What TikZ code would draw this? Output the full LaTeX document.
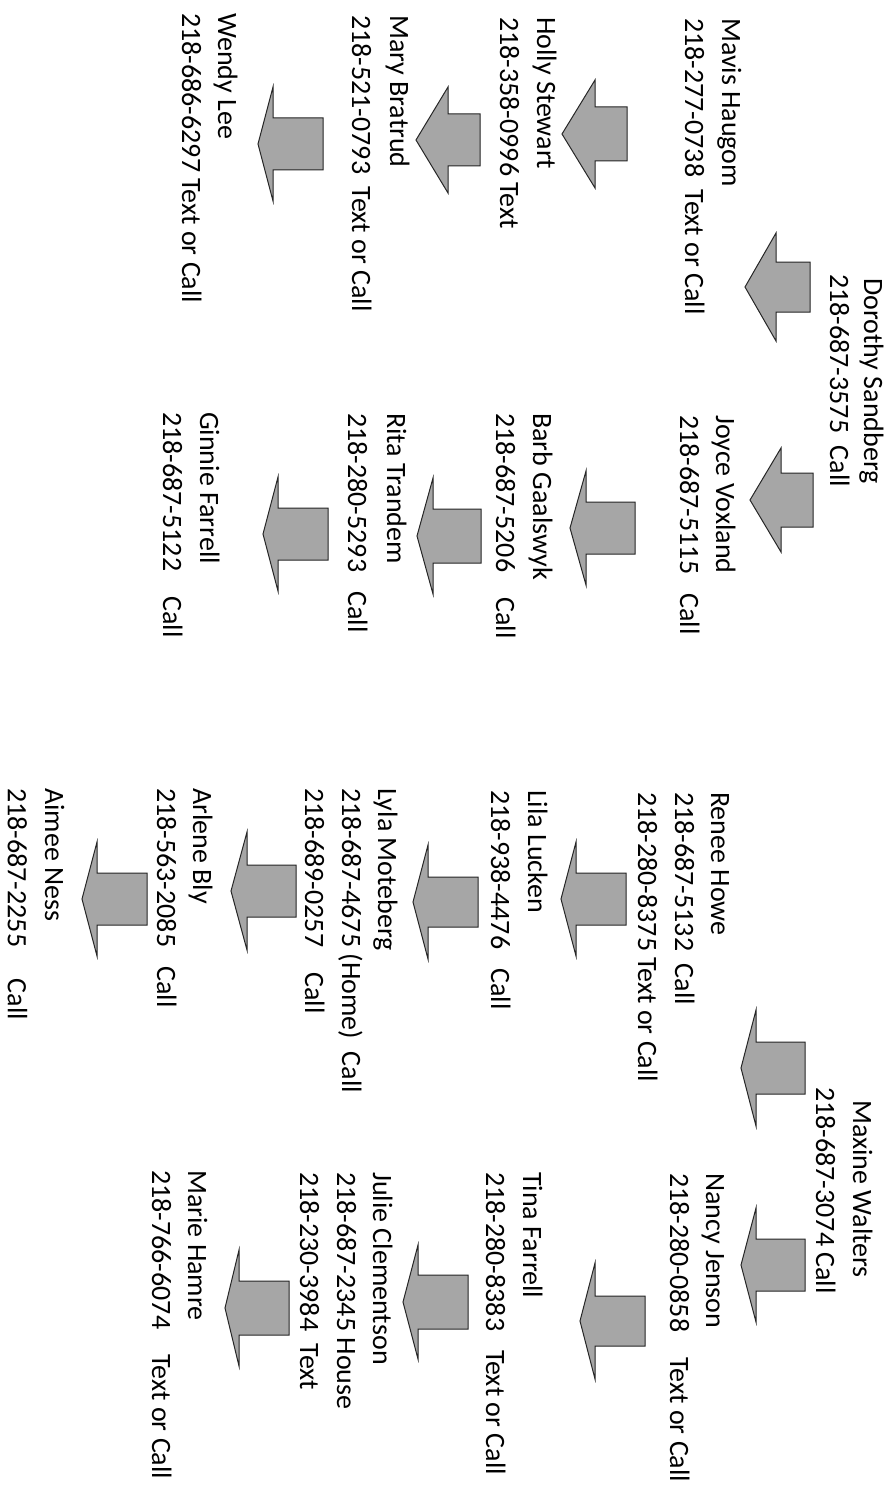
\documentclass[tikz,border=0pt]{standalone}
\usepackage{fontspec}
\setmainfont{Carlito}
\usepackage{tikz}
\definecolor{arrowgray}{RGB}{166,166,166}
\newcommand{\treefont}{\fontsize{28}{34}\selectfont}
\tikzset{
    member/.style={rotate=-90, anchor=base west, inner sep=0pt, font=\treefont},
    blockarrow/.style={draw=black!85, fill=arrowgray, line width=1pt, line join=miter},
    pics/callarrow/.style n args={4}{code={
      \draw[blockarrow] (0,0) -- (#1,-#2) -- (#1,-#4) -- (#1+#3,-#4) -- (#1+#3,#4) -- (#1,#4) -- (#1,#2) -- cycle;
    }},
  }
\begin{document}
\begin{tikzpicture}[x=1pt,y=-1pt]
				  \useasboundingbox (0,0) rectangle (893,1490);
				  %TREE 1
				  \node[member] (dorothy) at (864,278) {Dorothy Sandberg};
				  \node[member] (dorothy-ph) at (830,274) {218-687-3575~~Call};
				  \pic (a-mavis) at (745,287) {callarrow={31}{54}{34}{25}};
				  \pic (a-joyce) at (750,500) {callarrow={31}{52}{32}{27}};
				  %Mavis
				  \node[member] (mavis) at (722,18) {Mavis Haugom};
				  \node[member] (mavis-ph) at (685,18) {218-277-0738~~Text or Call};
				  \pic (a-holly) at (562,134) {callarrow={33}{54}{32}{27}};
				  \node[member] (holly) at (537,17) {Holly Stewart};
				  \node[member] (holly-ph) at (500,17) {218-358-0996 Text};
				  \pic (a-mary) at (416,140) {callarrow={32}{53}{32}{26}};
				  \node[member] (mary) at (390,15) {Mary Bratrud};
				  \node[member] (mary-ph) at (352,15) {218-521-0793~~Text or Call};
				  \pic (a-wendy) at (258,144) {callarrow={15}{57}{50}{26}};
				  \node[member] (wendy) at (218,13) {Wendy Lee};
				  \node[member] (wendy-ph) at (182,13) {218-686-6297 Text or Call};
				  %Joyce
				  \node[member] (joyce) at (716,415) {Joyce Voxland};
				  \node[member] (joyce-ph) at (680,415) {218-687-5115~~~Call};
				  \pic (a-barb) at (570,528) {callarrow={16}{57}{49}{26}};
				  \node[member] (barb) at (533,413) {Barb Gaalswyk};
				  \node[member] (barb-ph) at (496,413) {218-687-5206~~~~Call};
				  \pic (a-rita) at (417,536) {callarrow={16}{58}{48}{27}};
				  \node[member] (rita) at (387,413) {Rita Trandem};
				  \node[member] (rita-ph) at (348,413) {218-280-5293~~~Call};
				  \pic (a-ginnie) at (263,534) {callarrow={15}{57}{50}{26}};
				  \node[member] (ginnie) at (200,412) {Ginnie Farrell};
				  \node[member] (ginnie-ph) at (163,412) {218-687-5122~~~~Call};
				  %TREE 2
				  \node[member] (maxine) at (853,1100) {Maxine Walters};
				  \node[member] (maxine-ph) at (816,1087) {218-687-3074 Call};
				  \pic (a-renee) at (741,1068) {callarrow={15}{58}{49}{26}};
				  \pic (a-nancy) at (741,1265) {callarrow={15}{57}{49}{26}};
				  %Renee
				  \node[member] (renee) at (711,792) {Renee Howe};
				  \node[member] (renee-ph) at (675,792) {218-687-5132~~Call};
				  \node[member] (renee-ph2) at (638,792) {218-280-8375 Text or Call};
				  \pic (a-lila) at (561,899) {callarrow={15}{57}{50}{26}};
				  \node[member] (lila) at (528,790) {Lila Lucken};
				  \node[member] (lila-ph) at (491,790) {218-938-4476~~~Call};
				  \pic (a-lyla) at (413,902) {callarrow={15}{57}{50}{25}};
				  \node[member] (lyla) at (378,788) {Lyla Moteberg};
				  \node[member] (lyla-ph) at (342,788) {218-687-4675 (Home)~~Call};
				  \node[member] (lyla-ph2) at (305,788) {218-689-0257~~~~Call};
				  \pic (a-arlene) at (231,891) {callarrow={16}{59}{49}{26}};
				  \node[member] (arlene) at (193,788) {Arlene Bly};
				  \node[member] (arlene-ph) at (157,788) {218-563-2085~~~Call};
				  \pic (a-aimee) at (82,899) {callarrow={15}{57}{50}{26}};
				  \node[member] (aimee) at (45,788) {Aimee Ness};
				  \node[member] (aimee-ph) at (8,788) {218-687-2255~~~~~Call};
				  %Nancy
				  \node[member] (nancy) at (706,1173) {Nancy Jenson};
				  \node[member] (nancy-ph) at (670,1173) {218-280-0858~~~~Text or Call};
				  \pic (a-tina) at (580,1321) {callarrow={15}{58}{50}{25}};
				  \node[member] (tina) at (523,1172) {Tina Farrell};
				  \node[member] (tina-ph) at (486,1172) {218-280-8383~~~Text or Call};
				  \pic (a-julie) at (403,1302) {callarrow={15}{57}{50}{27}};
				  \node[member] (julie) at (373,1172) {Julie Clementson};
				  \node[member] (julie-ph) at (337,1172) {218-687-2345 House};
				  \node[member] (julie-ph2) at (300,1172) {218-230-3984~~Text};
				  \pic (a-marie) at (225,1308) {callarrow={14}{58}{50}{27}};
				  \node[member] (marie) at (188,1170) {Marie Hamre};
				  \node[member] (marie-ph) at (152,1170) {218-766-6074~~~~Text or Call};
				  \end{tikzpicture}
\end{document}
